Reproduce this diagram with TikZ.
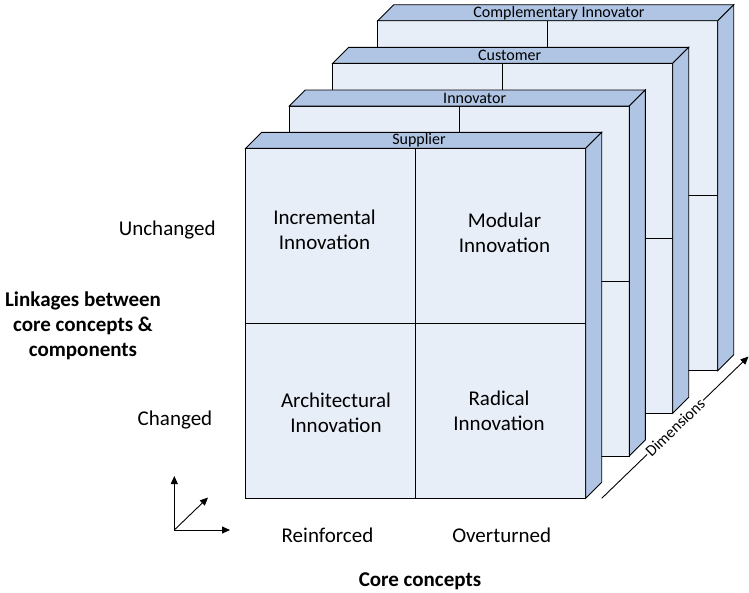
\documentclass[tikz,border=0pt]{standalone}
\usepackage{fontspec}
\setmainfont{Carlito}
\usetikzlibrary{arrows.meta}
\definecolor{frontc}{HTML}{E8EEF8}
\definecolor{sidec}{HTML}{B0C4E4}
\newcommand\mylayer[6]{%
  \begin{scope}[shift={(#2,#3)}]
    \draw[ln,fill=frontc] (0,0) rectangle (340,350);
    \draw[ln,fill=sidec] (0,0) -- (16,-16) -- (356,-16) -- (340,0) -- cycle;
    \draw[ln,fill=sidec] (340,0) -- (356,-16) -- (356,334) -- (340,350) -- cycle;
    \draw[ln] (170,0) -- (170,350);
    \draw[ln] (0,175) -- (340,175);
  \end{scope}
  \node[small] (#1) at (#5,#6) {#4};}
\begin{document}
\begin{tikzpicture}[x=1pt,y=-1pt,
  ln/.style={draw=black,line width=0.9pt},
  small/.style={font=\fontsize{16}{19}\selectfont,inner sep=0pt},
  big/.style={font=\fontsize{21}{25}\selectfont,inner sep=0pt,align=center},
  bigb/.style={font=\fontsize{21}{25}\selectfont\bfseries,inner sep=0pt,align=center},
  arr/.style={draw=black,line width=0.9pt,-{Triangle[length=8pt,width=7pt]}}]
\useasboundingbox (0,0) rectangle (749,592);
\mylayer{lcomp}{377.7}{20.7}{Complementary Innovator}{559}{13.3}
\mylayer{lcust}{332.7}{63.3}{Customer}{509.7}{55}
\mylayer{linno}{289.3}{106}{Innovator}{474.7}{98.3}
\mylayer{lsupp}{245.7}{148.3}{Supplier}{419}{140}
% quadrant texts
\node[big] (incr) at (324.5,229.5) {Incremental\\Innovation};
\node[big] (modu) at (504.5,233) {Modular\\Innovation};
\node[big] (arch) at (336,413) {Architectural\\Innovation};
\node[big] (radi) at (499,411) {Radical\\Innovation};
% axis labels
\node[big] (unch) at (167.2,230) {Unchanged};
\node[big] (chan) at (175,420) {Changed};
\node[bigb] (link) at (83,325.5) {Linkages between\\core concepts \&\\components};
\node[big] (rein) at (327.5,535) {Reinforced};
\node[big] (over) at (501.7,535) {Overturned};
\node[bigb] (core) at (420,581) {Core concepts};
% dimensions arrow
\coordinate (d1) at (601.7,498.3);
\coordinate (d2) at (748.5,356.5);
\draw[arr] (d1) -- node[sloped,fill=white,inner sep=1pt,font=\fontsize{16}{19}\selectfont] (dim) {Dimensions} (d2);
% axes icon
\coordinate (o) at (174.3,530);
\coordinate (ou) at (174.3,476);
\coordinate (or) at (230,530);
\coordinate (od) at (208,497.5);
\draw[arr] (o) -- (ou);
\draw[arr] (o) -- (or);
\draw[arr] (o) -- (od);
\end{tikzpicture}
\end{document}
